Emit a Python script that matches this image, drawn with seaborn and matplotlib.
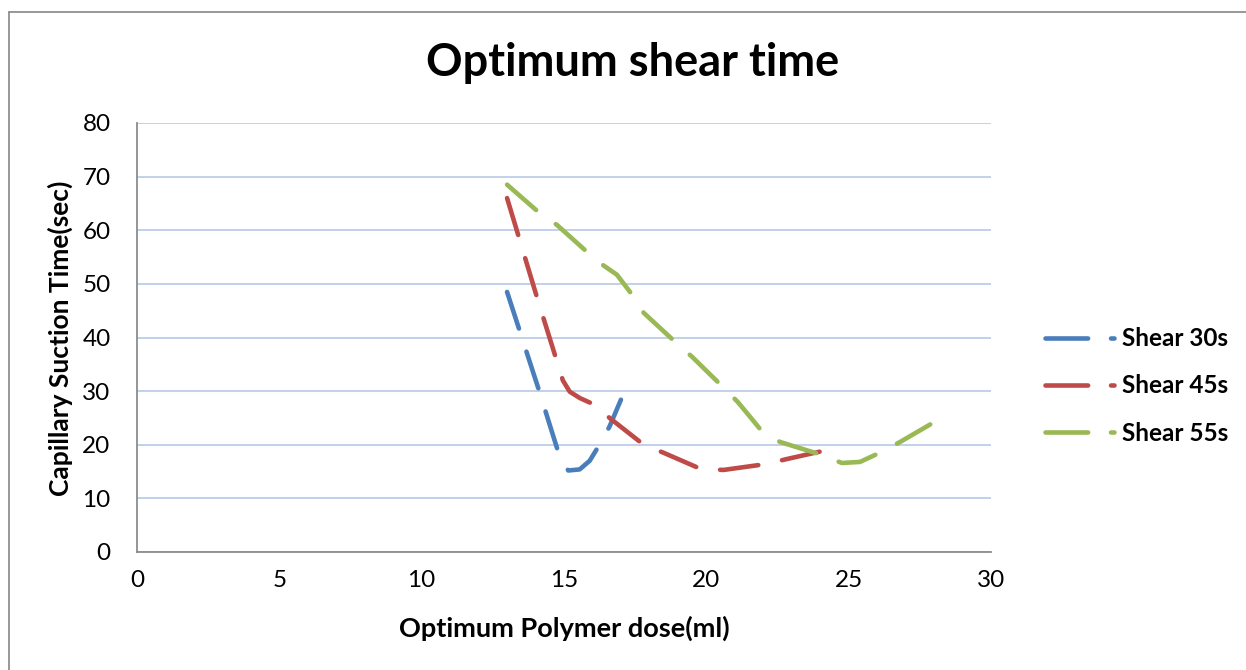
import matplotlib
matplotlib.use("Agg")
import matplotlib.pyplot as plt
from matplotlib.lines import Line2D
import seaborn as sns
import pandas as pd

# ---- data ----
dose_30 = [13.0, 14.1, 14.8, 15.0, 15.15, 15.55, 15.9, 16.2, 16.6, 17.0]
cst_30 = [48.5, 30.5, 18.6, 16.3, 15.2, 15.4, 17.0, 19.6, 23.4, 28.4]

dose_45 = [13.0, 14.05, 14.96, 15.2, 15.56, 16.1, 16.6, 17.8, 18.5, 19.8, 20.6, 22.1, 22.8, 24.06]
cst_45 = [66.0, 47.5, 32.0, 29.9, 28.7, 27.4, 25.0, 20.0, 18.5, 15.5, 15.3, 16.4, 17.3, 18.8]

dose_55 = [13.0, 14.1, 14.75, 15.8, 16.37, 16.86, 17.39, 17.8, 18.9, 19.5, 20.5, 21.1, 21.6, 22.0,
           22.6, 24.06, 24.76, 25.4, 26.17, 26.8, 28.03]
cst_55 = [68.5, 63.4, 61.0, 56.0, 53.5, 51.7, 48.0, 44.6, 39.2, 36.4, 31.2, 28.0, 24.8, 22.2,
          20.5, 18.1, 16.6, 16.8, 18.7, 20.5, 24.3]

series_names = ["Shear 30s", "Shear 45s", "Shear 55s"]
x_ticks = [0, 5, 10, 15, 20, 25, 30]
y_ticks = [0, 10, 20, 30, 40, 50, 60, 70, 80]

colors = ["#4A7EBB", "#BE4B48", "#98B954"]

sns.set_theme(style="white")
plt.rcParams["font.family"] = ["Lato", "DejaVu Sans"]
plt.rcParams["text.color"] = "black"

W, H = 1246, 670
fig = plt.figure(figsize=(W / 100, H / 100), dpi=100)
fig.patch.set_facecolor("white")

left, right, top, bottom = 137, 991, 123, 552
ax = fig.add_axes([left / W, 1 - bottom / H, (right - left) / W, (bottom - top) / H])

data = [(dose_30, cst_30), (dose_45, cst_45), (dose_55, cst_55)]
lw = 3.3
dash = (0, (8.4, 5.3))
for (xs, ys), name, c in zip(data, series_names, colors):
    df = pd.DataFrame({"dose": xs, "cst": ys})
    sns.lineplot(data=df, x="dose", y="cst", ax=ax, color=c, linewidth=lw,
                 linestyle=dash, dash_capstyle="round", solid_joinstyle="round",
                 sort=False, legend=False)

ax.set_xlim(0, 30)
ax.set_ylim(0, 80)
ax.set_xticks(x_ticks)
ax.set_yticks(y_ticks)
ax.set_xticklabels([str(v) for v in x_ticks])
ax.set_yticklabels([str(v) for v in y_ticks])
ax.tick_params(axis="both", length=0, labelsize=17.5, colors="black")
ax.tick_params(axis="x", pad=13)
ax.tick_params(axis="y", pad=19)
ax.grid(axis="y", color="#B7C8E6", linewidth=1.2)
ax.grid(axis="x", visible=False)
ax.set_axisbelow(True)
for s in ["top", "right"]:
    ax.spines[s].set_visible(False)
for s in ["left", "bottom"]:
    ax.spines[s].set_color("#8C8C8C")
    ax.spines[s].set_linewidth(1.3)
ax.set_xlabel("")
ax.set_ylabel("")

# titles / labels
fig.text(633 / W, 1 - 76 / H, "Optimum shear time", ha="center", va="baseline",
         fontsize=32.5, fontweight="bold", color="black")
fig.text(564 / W, 1 - 637 / H, "Optimum Polymer dose(ml)", ha="center", va="baseline",
         fontsize=19.5, fontweight="bold", color="black")
fig.text(69 / W, 1 - 338 / H, "Capillary Suction Time(sec)", ha="center", va="baseline",
         rotation=90, rotation_mode="anchor", fontsize=19, fontweight="bold", color="black")

# legend
handles = [Line2D([0], [0], color=c, linewidth=lw, linestyle=(0, (9.3, 5.0)),
                  dash_capstyle="round") for c in colors]
leg = fig.legend(handles, series_names, loc="center left",
                 bbox_to_anchor=(1045 / W, 1 - 386 / H), frameon=False,
                 prop={"size": 17.5, "weight": "bold"}, handlelength=2.85,
                 handletextpad=0.3, labelspacing=1.0, borderpad=0, borderaxespad=0)
for t in leg.get_texts():
    t.set_color("black")

# chart-area frame (left and top edges visible)
fig.add_artist(Line2D([8.5 / W, 8.5 / W], [0, 1 - 11.5 / H], transform=fig.transFigure,
                      color="#868686", linewidth=1.2))
fig.add_artist(Line2D([8.5 / W, 1.0], [1 - 11.5 / H, 1 - 11.5 / H], transform=fig.transFigure,
                      color="#868686", linewidth=1.2))

fig.savefig("out.png", dpi=100)
